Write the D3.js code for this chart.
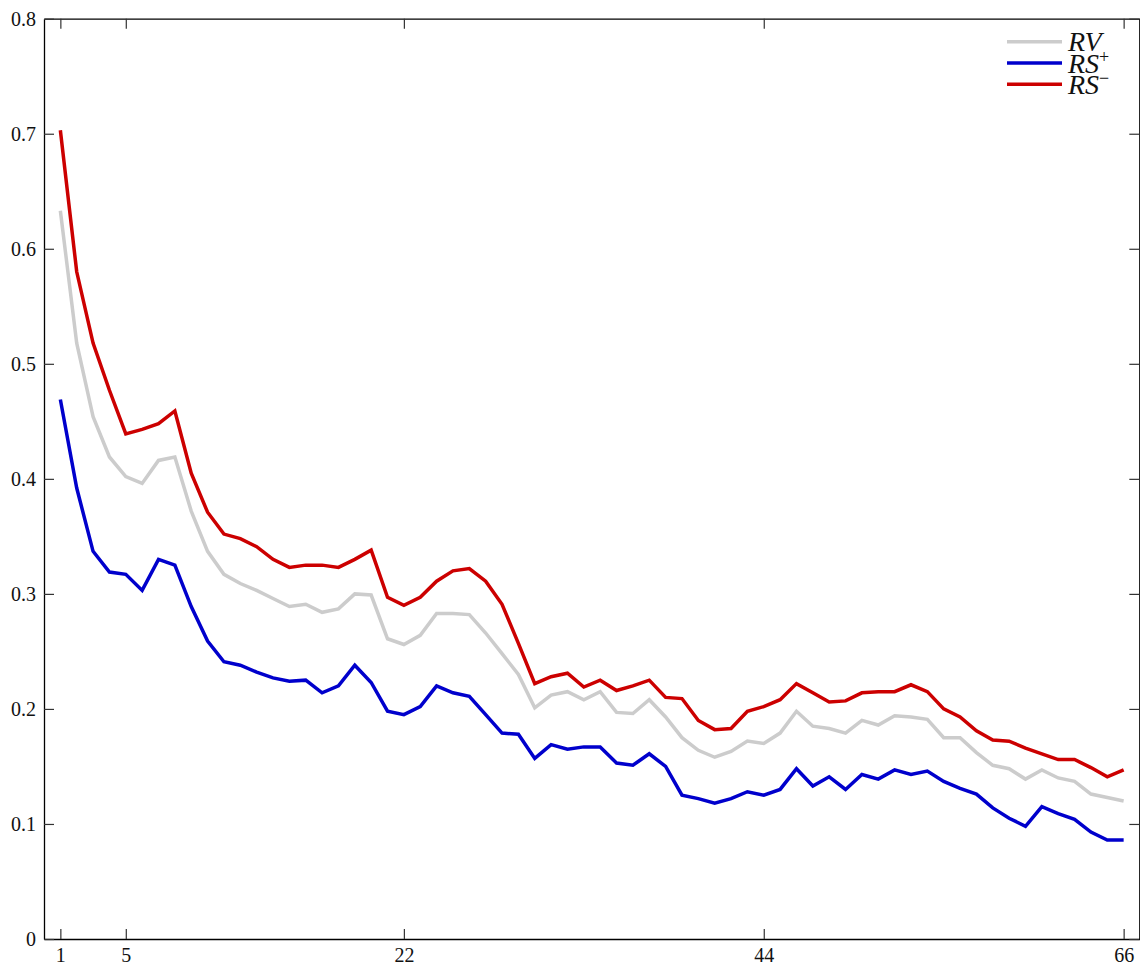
<!DOCTYPE html>
<html>
<head>
<meta charset="utf-8">
<script src="https://cdn.jsdelivr.net/npm/d3@7"></script>
<style>
  body { margin: 0; background: #fff; }
  svg { display: block; }
  .tick text { font-family: "Liberation Serif", "DejaVu Serif", serif; font-size: 20px; fill: #111; }
  .legend text { font-family: "Liberation Serif", "DejaVu Serif", serif; fill: #111; }
</style>
</head>
<body>
<div id="canvas"></div>
<script>
// horizon index 1..66
let horizons = d3.range(1, 67);

let rvValues = [
  0.633, 0.518, 0.454, 0.419, 0.402, 0.396, 0.416, 0.419, 0.372, 0.337,
  0.317, 0.309, 0.303, 0.296, 0.289, 0.291, 0.284, 0.287, 0.300, 0.299,
  0.261, 0.256, 0.264, 0.283, 0.283, 0.282, 0.266, 0.248, 0.230, 0.201,
  0.212, 0.215, 0.208, 0.215, 0.197, 0.196, 0.208, 0.193, 0.175, 0.164,
  0.158, 0.163, 0.172, 0.170, 0.179, 0.198, 0.185, 0.183, 0.179, 0.190,
  0.186, 0.194, 0.193, 0.191, 0.175, 0.175, 0.162, 0.151, 0.148, 0.139,
  0.147, 0.140, 0.137, 0.126, 0.123, 0.120
];

let rsPlusValues = [
  0.469, 0.392, 0.337, 0.319, 0.317, 0.303, 0.330, 0.325, 0.289, 0.259,
  0.241, 0.238, 0.232, 0.227, 0.224, 0.225, 0.214, 0.220, 0.238, 0.223,
  0.198, 0.195, 0.202, 0.220, 0.214, 0.211, 0.195, 0.179, 0.178, 0.157,
  0.169, 0.165, 0.167, 0.167, 0.153, 0.151, 0.161, 0.150, 0.125, 0.122,
  0.118, 0.122, 0.128, 0.125, 0.130, 0.148, 0.133, 0.141, 0.130, 0.143,
  0.139, 0.147, 0.143, 0.146, 0.137, 0.131, 0.126, 0.114, 0.105, 0.098,
  0.115, 0.109, 0.104, 0.093, 0.086, 0.086
];

let rsMinusValues = [
  0.703, 0.580, 0.518, 0.477, 0.439, 0.443, 0.448, 0.459, 0.405, 0.371,
  0.352, 0.348, 0.341, 0.330, 0.323, 0.325, 0.325, 0.323, 0.330, 0.338,
  0.297, 0.290, 0.297, 0.311, 0.320, 0.322, 0.311, 0.291, 0.257, 0.222,
  0.228, 0.231, 0.219, 0.225, 0.216, 0.220, 0.225, 0.210, 0.209, 0.190,
  0.182, 0.183, 0.198, 0.202, 0.208, 0.222, 0.214, 0.206, 0.207, 0.214,
  0.215, 0.215, 0.221, 0.215, 0.200, 0.193, 0.181, 0.173, 0.172, 0.166,
  0.161, 0.156, 0.156, 0.149, 0.141, 0.147
];

let xTicks = [1, 5, 22, 44, 66];
let yTicks = [0, 0.1, 0.2, 0.3, 0.4, 0.5, 0.6, 0.7, 0.8];

let seriesNames = ['RV', 'RS', 'RS'];
let seriesSup = ['', '+', '\u2212'];
let seriesColors = ['#cccccc', '#0000cc', '#cc0000'];
let seriesValues = [rvValues, rsPlusValues, rsMinusValues];

let width = 1140, height = 969;
let x = d3.scaleLinear().domain([0, 67]).range([44, 1140]);
let y = d3.scaleLinear().domain([0, 0.8]).range([939, 18.7]);

let svg = d3.select('#canvas').append('svg')
    .attr('width', width)
    .attr('height', height);

// axes, ticks pointing inward like matlab
let styleAxis = (g) => {
    g.selectAll('.domain').attr('stroke', '#000').attr('stroke-width', 1.3);
    g.selectAll('.tick line').attr('stroke', '#333').attr('stroke-width', 1.2);
};

svg.append('g')
    .attr('transform', `translate(0,${y(0)})`)
    .call(d3.axisBottom(x).tickValues(xTicks).tickSize(-10).tickSizeOuter(0).tickPadding(9))
    .call(styleAxis);

svg.append('g')
    .attr('transform', `translate(0,${y(0.8)})`)
    .call(d3.axisTop(x).tickValues(xTicks).tickSize(-10).tickSizeOuter(0).tickFormat(''))
    .call(styleAxis);

svg.append('g')
    .attr('transform', `translate(${x(0)},0)`)
    .call(d3.axisLeft(y).tickValues(yTicks).tickSize(-10).tickSizeOuter(0).tickPadding(8)
        .tickFormat(d => d === 0 ? '0' : d3.format('.1f')(d)))
    .call(styleAxis);

svg.append('g')
    .attr('transform', `translate(${x(67) - 0.7},0)`)
    .call(d3.axisRight(y).tickValues(yTicks).tickSize(-10).tickSizeOuter(0).tickFormat(''))
    .call(styleAxis);

svg.selectAll('.tick text').attr('fill', '#111');

// the three lines
let line = d3.line()
    .x((d, i) => x(horizons[i]))
    .y(d => y(d));

svg.selectAll('path.series')
    .data(seriesValues)
    .enter()
    .append('path')
    .attr('class', 'series')
    .attr('d', line)
    .attr('fill', 'none')
    .attr('stroke', (d, i) => seriesColors[i])
    .attr('stroke-width', 3.5)
    .attr('stroke-linejoin', 'miter');

// legend
let legend = svg.append('g').attr('class', 'legend')
    .selectAll('g')
    .data(seriesNames)
    .enter()
    .append('g')
    .attr('transform', (d, i) => `translate(0,${41.7 + i * 21.3})`);

legend.append('line')
    .attr('x1', 1007).attr('x2', 1062)
    .attr('y1', 0).attr('y2', 0)
    .attr('stroke', (d, i) => seriesColors[i])
    .attr('stroke-width', 3.5);

let label = legend.append('text')
    .attr('x', 1068)
    .attr('y', 9.5);
label.append('tspan')
    .attr('font-style', 'italic')
    .attr('font-size', 28)
    .text(d => d);
label.append('tspan')
    .attr('font-size', 18)
    .attr('dy', -10)
    .text((d, i) => seriesSup[i]);
</script>
</body>
</html>
